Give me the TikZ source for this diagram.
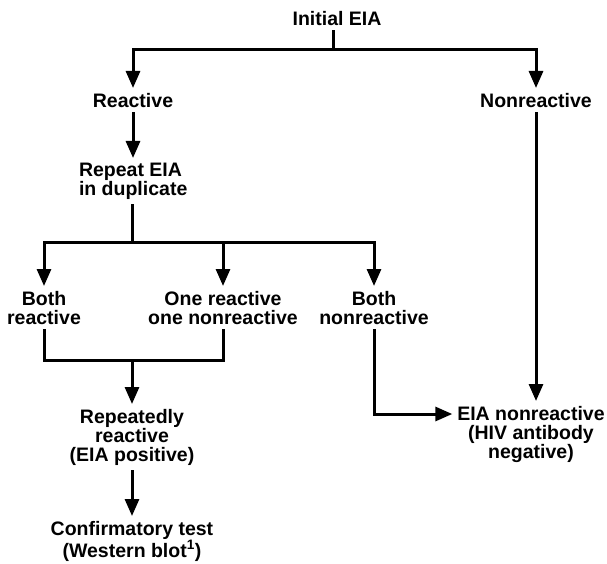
\documentclass[tikz,border=0pt]{standalone}
\usepackage{fontspec}
\setmainfont{Liberation Sans}
\usetikzlibrary{arrows.meta}
\tikzset{
  lbl/.style={inner sep=0pt, outer sep=5pt, align=center, anchor=north,
    font=\fontsize{19.5}{19}\selectfont\bfseries},
  arr/.style={-{Triangle[length=17pt,width=14pt]}},
}
\begin{document}
\begin{tikzpicture}[x=1pt, y=-1pt, line width=3pt]
  \useasboundingbox (0,0) rectangle (607,564);
  \node[lbl] (init) at (337,6) {Initial EIA};
  \node[lbl] (reac) at (133,88) {Reactive};
  \node[lbl] (nonr) at (536,88) {Nonreactive};
  \node[lbl, anchor=north west, align=left] (rep) at (74,158) {Repeat EIA\\in duplicate};
  \node[lbl] (brea) at (44,286) {Both\\reactive};
  \node[lbl] (one) at (223,286) {One reactive\\one nonreactive};
  \node[lbl] (bnon) at (374,286) {Both\\nonreactive};
  \node[lbl] (rrea) at (132,404) {Repeatedly\\reactive\\(EIA positive)};
  \node[lbl] (eneg) at (531,401) {EIA nonreactive\\(HIV antibody\\negative)};
  \node[lbl] (conf) at (132,516) {Confirmatory test\\(Western blot\textsuperscript{1})};
  \coordinate (j1) at (333,50);
  \coordinate (j2) at (132,242);
  \coordinate (j3) at (132,360);
  \draw (init.south -| j1) -- (j1);
  \draw[arr] (j1) -| (reac.north);
  \draw[arr] (j1) -| (nonr.north);
  \draw[arr] (reac.south) -- (rep.north -| reac.south);
  \draw (rep.south -| j2) -- (j2);
  \draw[arr] (j2) -| (brea.north);
  \draw[arr] (j2) -| (bnon.north);
  \draw[arr] (one.north |- j2) -- (one.north);
  \draw (brea.south) |- (one.south |- j3) -- (one.south);
  \draw[arr] (j3) -- (rrea.north);
  \draw[arr] (rrea.south) -- (conf.north);
  \draw[arr] (bnon.south) |- ([yshift=-13pt]eneg.north west);
  \draw[arr] (nonr.south) -- (nonr.south |- eneg.north);
\end{tikzpicture}
\end{document}
